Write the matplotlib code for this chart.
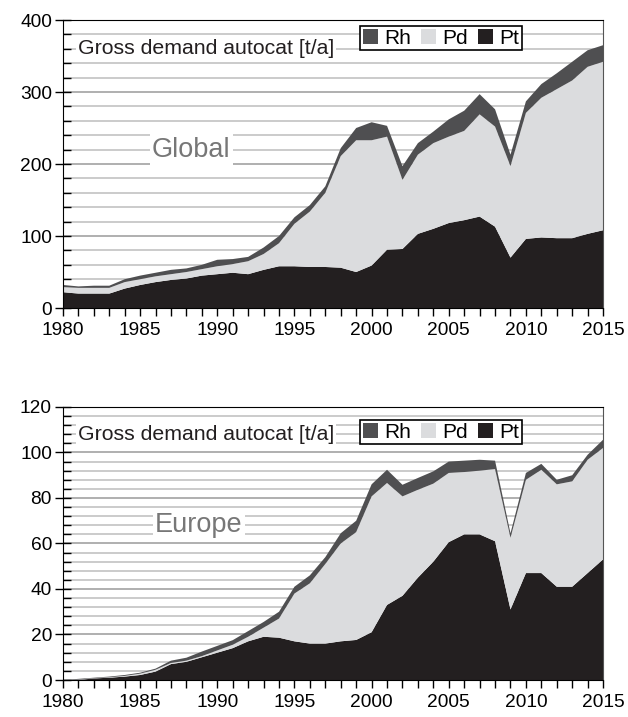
import numpy as np
import matplotlib
matplotlib.use('Agg')
import matplotlib.pyplot as plt
from matplotlib.ticker import MultipleLocator

plt.rcParams['font.family'] = ['Liberation Sans', 'DejaVu Sans']

years = np.arange(1980, 2016)

# Global gross demand autocat [t/a]
glob_pt = [22, 20, 20, 20, 27, 32, 36, 39, 41, 45, 47, 49, 47, 53, 58, 58, 57, 57,
           56, 50, 59, 81, 82, 103, 110, 118, 122, 127, 113, 70, 96, 98, 97, 97, 103, 108]
glob_pd = [7, 8, 8, 8, 9, 8, 8, 8, 9, 9, 11, 12, 18, 22, 32, 59, 77, 103,
           155, 183, 174, 157, 96, 110, 119, 120, 124, 142, 139, 127, 175, 194, 207, 219, 232, 234]
glob_rh = [3, 2, 3, 3, 4, 5, 5, 6, 5, 6, 9, 7, 6, 9, 10, 9, 9, 9,
           11, 17, 25, 15, 19, 16, 16, 24, 28, 28, 24, 16, 16, 19, 22, 26, 23, 23]

# Europe gross demand autocat [t/a]
eu_pt = [0, 0, 0.7, 1, 1.5, 2.2, 3.7, 7, 8, 10, 12, 14, 17, 19, 18.6, 17, 16, 16,
         17, 17.6, 21, 33, 37, 45, 52, 60.6, 64, 64, 61, 31, 47, 47, 41, 41, 47, 53]
eu_pd = [0, 0.2, 0.1, 0.2, 0.3, 0.6, 0.8, 0.5, 0.5, 0.5, 1, 1.5, 2, 4, 8.4, 21, 26.5, 35,
         43, 47.4, 59.7, 53.6, 43.7, 38.6, 34.3, 30.4, 27.4, 28, 31.7, 31.5, 41, 45.4, 45, 46.3, 49.8, 49]
eu_rh = [0, 0.3, 0.2, 0.3, 0.4, 0.4, 0.5, 1, 1.3, 2, 2, 2, 2.5, 2.5, 3, 3, 3.5, 3,
         4.5, 5, 5.3, 5.8, 5.1, 5.2, 5.4, 5, 5, 4.8, 3.7, 2, 3, 2.6, 2, 2.7, 2.2, 3.6]

c_pt = '#231f20'
c_pd = '#dbdcde'
c_rh = '#4f4f51'
fs_tick = 13.8
fs_lab = 15.3

fig = plt.figure(figsize=(6.28, 7.17), dpi=100)
ax1 = fig.add_axes([0.1003, 0.5704, 0.860, 0.4017])
ax2 = fig.add_axes([0.1003, 0.0516, 0.860, 0.3808])


def draw(ax, pt, pd, rh, ymax, major, minor, region, region_x, region_y, label_y, leg_top):
    ax.stackplot(years, pt, pd, rh, colors=[c_pt, c_pd, c_rh], linewidth=0, zorder=2)
    ax.set_xlim(1980, 2015)
    ax.set_ylim(0, ymax)
    ax.xaxis.set_major_locator(MultipleLocator(5))
    ax.xaxis.set_minor_locator(MultipleLocator(1))
    ax.yaxis.set_major_locator(MultipleLocator(major))
    ax.yaxis.set_minor_locator(MultipleLocator(minor))
    ax.grid(axis='y', which='major', color='#9a9a9a', linewidth=1.1, zorder=0)
    ax.grid(axis='y', which='minor', color='#bdbdbd', linewidth=1.1, zorder=0)
    ax.set_axisbelow(True)
    ax.tick_params(axis='x', which='both', direction='out', length=6, width=1,
                   labelsize=fs_tick, pad=4)
    ax.tick_params(axis='y', which='major', direction='inout', length=12, width=1,
                   labelsize=fs_tick, pad=2)
    ax.tick_params(axis='y', which='minor', direction='in', length=6, width=1)
    for s in ['left', 'top', 'bottom']:
        ax.spines[s].set_color('black')
    ax.spines['right'].set_color('#555555')
    ax.text(1980.95, label_y, 'Gross demand autocat [t/a]', fontsize=fs_lab, color='#231f20',
            va='center', ha='left', zorder=5,
            bbox=dict(facecolor='white', edgecolor='none', pad=1.5))
    ax.text(region_x, region_y, region, fontsize=19.5, color='#777777', va='center', ha='center',
            zorder=5, bbox=dict(facecolor='white', edgecolor='none', pad=1.5))
    handles = [plt.Rectangle((0, 0), 1, 1, facecolor=c, edgecolor='none') for c in (c_rh, c_pd, c_pt)]
    leg = ax.legend(handles, ['Rh', 'Pd', 'Pt'], ncol=3, loc='upper left',
                    bbox_to_anchor=(0.55, leg_top), fontsize=15, frameon=True, fancybox=False,
                    edgecolor='black', framealpha=1, handlelength=0.75, handleheight=0.75,
                    handletextpad=0.3, columnspacing=0.45, borderpad=0.12, borderaxespad=0)
    leg.get_frame().set_linewidth(1.2)
    leg.set_zorder(6)


draw(ax1, glob_pt, glob_pd, glob_rh, 400, 100, 20, 'Global', 1988.3, 220, 360, 0.979)
draw(ax2, eu_pt, eu_pd, eu_rh, 120, 20, 4, 'Europe', 1988.8, 68, 108, 0.952)

fig.savefig('out.png', dpi=100)
